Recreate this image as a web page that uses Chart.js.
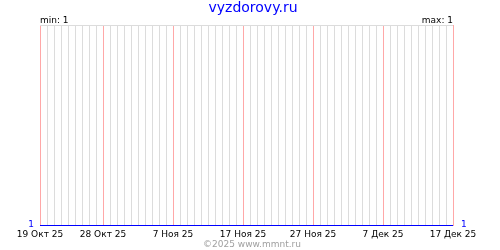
<!DOCTYPE html>
<html>
<head>
<meta charset="utf-8">
<script src="https://cdn.jsdelivr.net/npm/chart.js@4/dist/chart.umd.min.js"></script>
<style>
html,body{margin:0;padding:0;background:#fff;}
#c{display:block;}
</style>
</head>
<body>
<canvas id="c" width="500" height="250"></canvas>
<script>
const titleText = "vyzdorovy.ru";
const copyrightText = "©2025 www.mmnt.ru";
const categories = [
 "19 Окт 25","20 Окт 25","21 Окт 25","22 Окт 25","23 Окт 25","24 Окт 25","25 Окт 25","26 Окт 25","27 Окт 25","28 Окт 25",
 "29 Окт 25","30 Окт 25","31 Окт 25","1 Ноя 25","2 Ноя 25","3 Ноя 25","4 Ноя 25","5 Ноя 25","6 Ноя 25","7 Ноя 25",
 "8 Ноя 25","9 Ноя 25","10 Ноя 25","11 Ноя 25","12 Ноя 25","13 Ноя 25","14 Ноя 25","15 Ноя 25","16 Ноя 25","17 Ноя 25",
 "18 Ноя 25","19 Ноя 25","20 Ноя 25","21 Ноя 25","22 Ноя 25","23 Ноя 25","24 Ноя 25","25 Ноя 25","26 Ноя 25","27 Ноя 25",
 "28 Ноя 25","29 Ноя 25","30 Ноя 25","1 Дек 25","2 Дек 25","3 Дек 25","4 Дек 25","5 Дек 25","6 Дек 25","7 Дек 25",
 "8 Дек 25","9 Дек 25","10 Дек 25","11 Дек 25","12 Дек 25","13 Дек 25","14 Дек 25","15 Дек 25","16 Дек 25","17 Дек 25"
];
const values = [
 1,1,1,1,1,1,1,1,1,1,
 1,1,1,1,1,1,1,1,1,1,
 1,1,1,1,1,1,1,1,1,1,
 1,1,1,1,1,1,1,1,1,1,
 1,1,1,1,1,1,1,1,1,1,
 1,1,1,1,1,1,1,1,1,1
];
const tickLabels = ["19 Окт 25","28 Окт 25","7 Ноя 25","17 Ноя 25","27 Ноя 25","7 Дек 25","17 Дек 25"];
const minValue = 1;
const maxValue = 1;

const FONT = '"DejaVu Sans", sans-serif';

const overlay = {
  id: 'overlay',
  afterDraw(chart) {
    const ctx = chart.ctx;
    const a = chart.chartArea;
    const y = chart.scales.y;
    ctx.save();
    ctx.textBaseline = 'alphabetic';
    ctx.font = '14px ' + FONT;
    ctx.fillStyle = '#0000ff';
    ctx.textAlign = 'center';
    ctx.fillText(titleText, 253, 12);
    ctx.font = '9px ' + FONT;
    ctx.fillStyle = '#000000';
    ctx.textAlign = 'left';
    ctx.fillText('min: ' + minValue, a.left, 23);
    ctx.textAlign = 'right';
    ctx.fillText('max: ' + maxValue, a.right, 23);
    ctx.fillStyle = '#0000ff';
    const py = y.getPixelForValue(values[0]);
    ctx.textAlign = 'right';
    ctx.fillText(String(values[0]), a.left - 6, py + 1);
    ctx.textAlign = 'left';
    ctx.fillText(String(values[values.length - 1]), a.right + 8, py + 1);
    ctx.fillStyle = '#a0a0a0';
    ctx.textAlign = 'center';
    ctx.fillText(copyrightText, 252, 247);
    ctx.restore();
  }
};

new Chart(document.getElementById('c'), {
  type: 'line',
  data: {
    labels: categories,
    datasets: [{
      data: values,
      borderColor: '#0000ff',
      borderWidth: 2,
      pointRadius: 0,
      fill: false,
      tension: 0
    }]
  },
  options: {
    responsive: false,
    animation: false,
    devicePixelRatio: 1,
    layout: { padding: { left: 40, right: 47, top: 25, bottom: 0 } },
    plugins: { legend: { display: false }, title: { display: false }, tooltip: { enabled: false } },
    scales: {
      x: {
        type: 'category',
        offset: false,
        border: { display: false },
        grid: {
          drawTicks: false,
          color: (c) => (c.tick && tickLabels.includes(categories[c.tick.value])) ? '#ffa8a8' : '#dcdcdc',
          lineWidth: 1
        },
        ticks: {
          autoSkip: false,
          maxRotation: 0,
          minRotation: 0,
          padding: 3,
          color: '#000000',
          font: { family: FONT, size: 9 },
          callback: (v, i) => tickLabels.includes(categories[i]) ? categories[i] : ''
        },
        afterFit: (s) => { s.height = 24; }
      },
      y: {
        min: 1,
        max: 2,
        border: { display: false },
        grid: {
          drawTicks: false,
          color: (c) => c.tick && c.tick.value === 2 ? '#dcdcdc' : 'rgba(0,0,0,0)'
        },
        ticks: { display: false, stepSize: 1 },
        afterFit: (s) => { s.width = 0; }
      }
    }
  },
  plugins: [overlay]
});
</script>
</body>
</html>
